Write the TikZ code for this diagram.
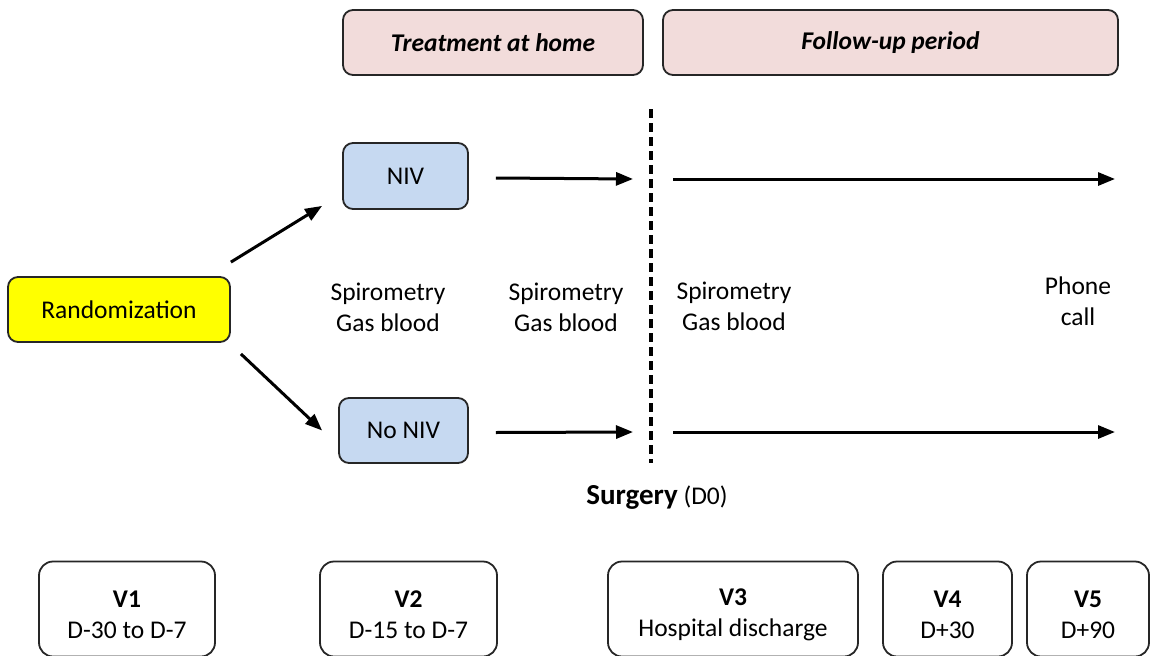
\documentclass[tikz,border=0pt]{standalone}
\usepackage{fontspec}
\setmainfont{Carlito}
\usetikzlibrary{arrows.meta}

\definecolor{headpink}{HTML}{F2DCDB}
\definecolor{armblue}{HTML}{C6D9F1}
\definecolor{randyellow}{HTML}{FFFF00}

\tikzset{
  box/.style={draw=black!85, line width=1.8pt, rounded corners=10pt,
    align=center, inner sep=0pt},
  visit/.style={box, rounded corners=14pt, minimum height=95pt},
  vtext/.style={align=center, yshift=-6pt},
  arr/.style={line width=3pt, -{Triangle[length=17pt,width=13pt]}},
}

\begin{document}
\begin{tikzpicture}[x=1pt,y=-1pt,font=\fontsize{25.5}{31}\selectfont]
            \useasboundingbox (0,0) rectangle (1152,656);

            % Draw the two period headers
            \node[box, fill=headpink, minimum width=300pt, minimum height=65pt] (home) at (493,42.5) {\bfseries\itshape Treatment at home};
            \node[box, fill=headpink, minimum width=455pt, minimum height=65pt] (follow) at (890.5,42.5) {\bfseries\itshape Follow-up period};

            % Randomization and the two arms
            \node[box, fill=randyellow, minimum width=222pt, minimum height=65pt] (rand) at (119,309.5) {Randomization};
            \node[box, fill=armblue, minimum width=125pt, minimum height=66pt] (niv) at (405.5,176) {NIV};
            \node[box, fill=armblue, minimum width=129pt, minimum height=65pt] (noniv) at (403.5,430.5) {No NIV};

            \draw[arr] ([yshift=14pt]rand.north east) -- ([xshift=-20pt,yshift=4pt]niv.south west);
            \draw[arr] ([xshift=10pt,yshift=-11pt]rand.south east) -- ([xshift=-16pt]noniv.west);

            % Day of surgery
            \coordinate (cuttop) at (651,109);
            \coordinate (cutbot) at (651,463);
            \draw[line width=3.5pt, dash pattern=on 9pt off 5pt] (cuttop) -- (cutbot);
            \node (surg) at (657,497) {{\fontsize{29}{31}\selectfont\bfseries Surgery} (D0)};

            % Timelines of both arms
            \coordinate (endniv) at (1115,179);
            \coordinate (endnoniv) at (1115,432);
            \draw[arr] ([xshift=27pt,yshift=-2pt]niv.east) -- ([xshift=-18pt]cuttop |- endniv);
            \draw[arr] ([xshift=22pt]cuttop |- endniv) -- (endniv);
            \draw[arr] ([xshift=27pt,yshift=-2pt]noniv.east) -- ([xshift=-18pt]cutbot |- endnoniv);
            \draw[arr] ([xshift=22pt]cutbot |- endnoniv) -- (endnoniv);

            % Exams at each visit
            \node[align=center] (exam1) at (388,307) {Spirometry\\Gas blood};
            \node[align=center] (exam2) at (566,307) {Spirometry\\Gas blood};
            \node[align=center] (exam3) at (734,306) {Spirometry\\Gas blood};
            \node[align=center] (phone) at (1078,301) {Phone\\call};

            % Visits
            \node[visit, minimum width=176pt, label={[vtext]center:{\textbf{V1}\\D-30 to D-7}}] (v1) at (127,609) {};
            \node[visit, minimum width=177pt, label={[vtext]center:{\textbf{V2}\\D-15 to D-7}}] (v2) at (408.5,609) {};
            \node[visit, minimum width=250pt, label={[vtext]center:{\textbf{V3}\\Hospital discharge}}] (v3) at (733,609) {};
            \node[visit, minimum width=129pt, label={[vtext]center:{\textbf{V4}\\D+30}}] (v4) at (947.5,609) {};
            \node[visit, minimum width=122pt, label={[vtext]center:{\textbf{V5}\\D+90}}] (v5) at (1088,609) {};

        \end{tikzpicture}
\end{document}
